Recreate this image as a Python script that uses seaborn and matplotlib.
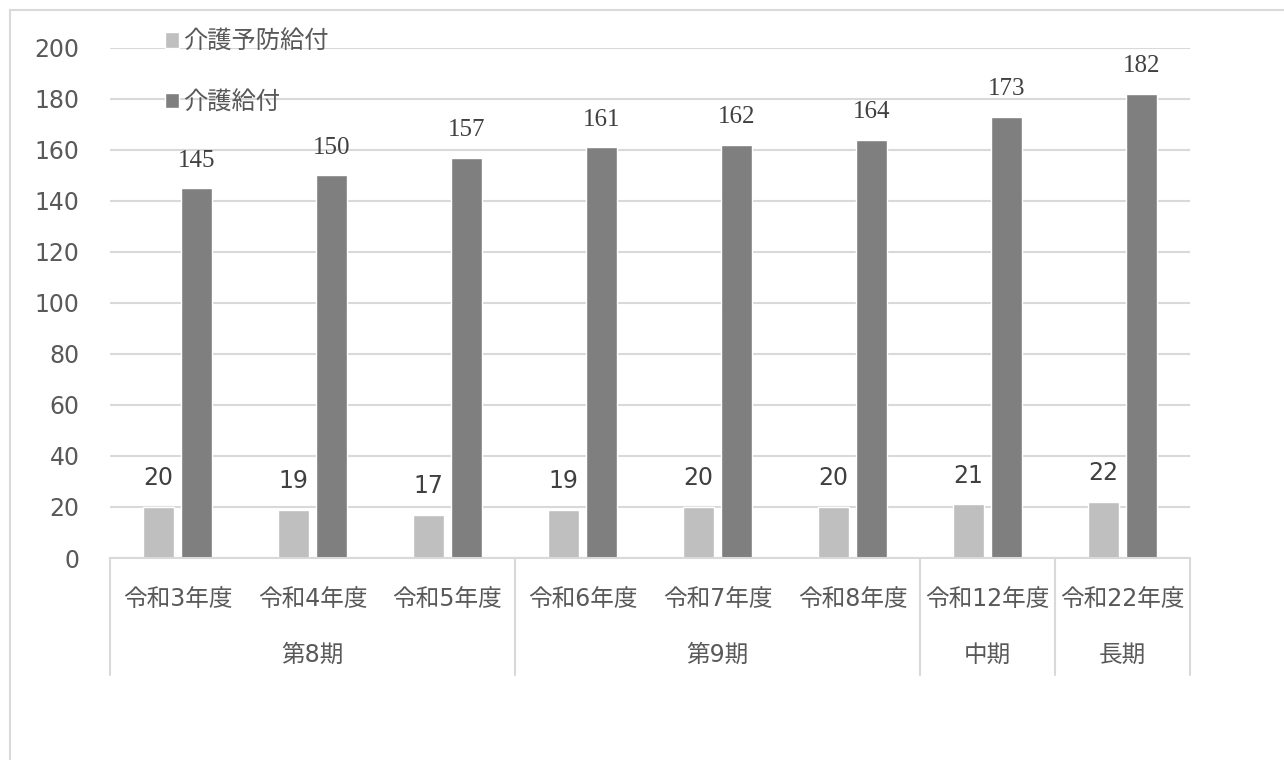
import matplotlib
matplotlib.use("Agg")
import matplotlib.pyplot as plt
import matplotlib.transforms as mtransforms
from matplotlib.patches import Rectangle
import pandas as pd
import seaborn as sns

# ---- data -------------------------------------------------------------
years = ["令和3年度", "令和4年度", "令和5年度", "令和6年度",
         "令和7年度", "令和8年度", "令和12年度", "令和22年度"]
periods = ["第8期", "第9期", "中期", "長期"]
period_spans = [3, 3, 1, 1]          # number of years in each period
series_names = ["介護予防給付", "介護給付"]
prevention = [20, 19, 17, 19, 20, 20, 21, 22]
care = [145, 150, 157, 161, 162, 164, 173, 182]
y_ticks = [0, 20, 40, 60, 80, 100, 120, 140, 160, 180, 200]

df = pd.DataFrame({
    "year": years * 2,
    "series": [series_names[0]] * len(years) + [series_names[1]] * len(years),
    "value": prevention + care,
})

# ---- style ------------------------------------------------------------
sns.set_theme(style="white")
SANS = ["DejaVu Sans", "Noto Sans CJK JP"]
plt.rcParams["font.family"] = SANS
TEXT = "#595959"
GRID = "#d9d9d9"
colors = ["#bfbfbf", "#7f7f7f"]
FS = 17

W, H = 1284, 760
fig = plt.figure(figsize=(W / 100, H / 100), dpi=100)
ax = fig.add_axes([110 / W, 1 - 558 / H, 1080 / W, 510 / H])

sns.barplot(data=df, x="year", y="value", hue="series", order=years,
            hue_order=series_names, palette=colors, width=0.563, gap=0.21,
            saturation=1, ax=ax, legend=True, err_kws={"linewidth": 0})

ax.set_xlim(-0.5, len(years) - 0.5)
ax.set_ylim(y_ticks[0], y_ticks[-1])
ax.set_yticks(y_ticks)
ax.set_xlabel("")
ax.set_ylabel("")
ax.yaxis.grid(True, color=GRID, linewidth=1.5)
ax.set_axisbelow(True)
for side in ["left", "right", "top"]:
    ax.spines[side].set_visible(False)
ax.spines["bottom"].set_color(GRID)
ax.spines["bottom"].set_linewidth(1.5)
ax.tick_params(axis="both", length=0, labelsize=FS, labelcolor=TEXT)
ax.tick_params(axis="y", pad=22)
ax.tick_params(axis="x", pad=21)

# value labels above each bar
label_fonts = [SANS, ["Liberation Serif"]]
label_sizes = [FS, 18]
for container, fam, size in zip(ax.containers, label_fonts, label_sizes):
    ax.bar_label(container, fmt="%d", padding=12, fontsize=size,
                 color="#404040", family=fam)

# second level of the category axis: period names and separators
blend = mtransforms.blended_transform_factory(ax.transData, ax.transAxes)
edge = -0.5
ax.plot([edge, edge], [0, -0.23], transform=blend, color=GRID,
        linewidth=1.5, clip_on=False)
for name, span in zip(periods, period_spans):
    ax.text(edge + span / 2, -0.19, name, transform=blend, ha="center",
            va="center", fontsize=FS, color=TEXT)
    edge += span
    ax.plot([edge, edge], [0, -0.23], transform=blend, color=GRID,
            linewidth=1.5, clip_on=False)

# legend inside the plot area, top-left
sns.move_legend(ax, loc="center left", bbox_to_anchor=(143 / W, 1 - 72 / H),
                bbox_transform=fig.transFigure, frameon=False, title=None,
                fontsize=17.5, labelspacing=1.5, handlelength=0.6,
                handleheight=0.6, handletextpad=0.15, labelcolor=TEXT)

# chart frame
fig.add_artist(Rectangle((9.5 / W, -0.1), 1.2, 1 - 10 / H + 0.1,
                         transform=fig.transFigure, fill=False,
                         edgecolor=GRID, linewidth=1.5))

fig.savefig("out.png", dpi=100, facecolor="white")
